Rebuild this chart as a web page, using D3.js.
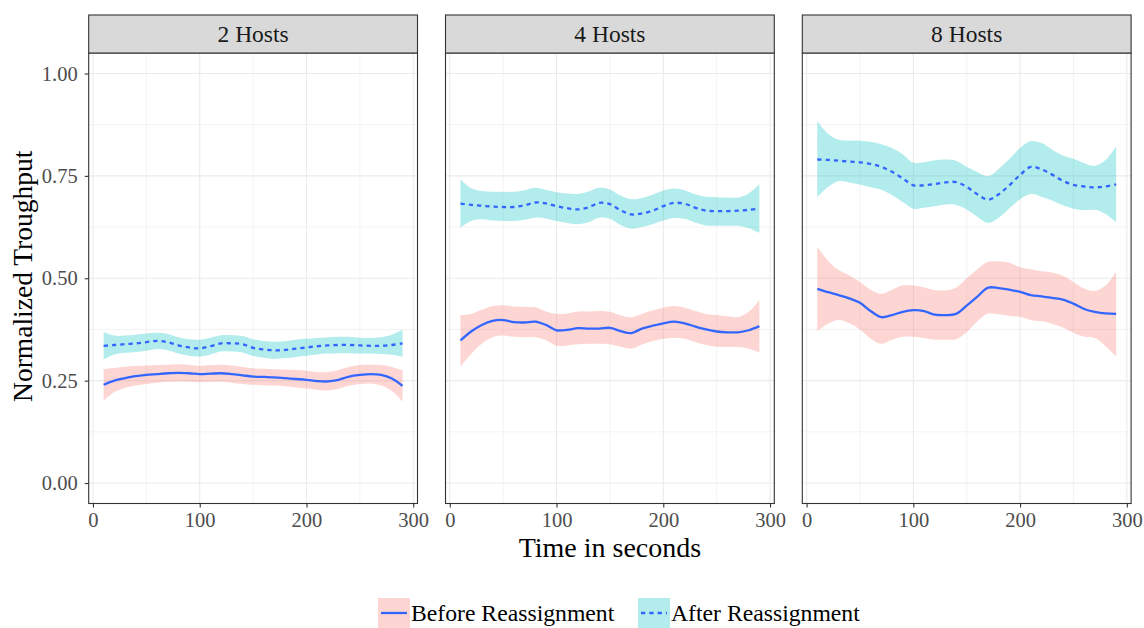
<!DOCTYPE html>
<html>
<head>
<meta charset="utf-8">
<script src="https://cdn.jsdelivr.net/npm/d3@7"></script>
<style>
  html, body { margin: 0; padding: 0; background: #fff; }
  svg { display: block; font-family: "Liberation Serif", "DejaVu Serif", serif; }
</style>
</head>
<body>
<svg id="chart" width="1144" height="628"></svg>
<script>
// ---- data -------------------------------------------------------------
const facets = ["2 Hosts", "4 Hosts", "8 Hosts"];
const groups = ["Before Reassignment", "After Reassignment"];
const xTicks = [0, 100, 200, 300];
const yTicks = [0, 0.25, 0.5, 0.75, 1];
const yTickLabels = ["0.00", "0.25", "0.50", "0.75", "1.00"];

const times = [10, 20, 30, 40, 50, 60, 70, 80, 90, 100, 110, 120, 130, 140, 150,
               160, 170, 180, 190, 200, 210, 220, 230, 240, 250, 260, 270, 280, 290];

// 2 Hosts
const before2Fit = [0.240, 0.250, 0.256, 0.261, 0.264, 0.266, 0.268, 0.269, 0.268, 0.266, 0.267, 0.268, 0.266, 0.263, 0.260,
                    0.259, 0.258, 0.256, 0.254, 0.252, 0.249, 0.248, 0.252, 0.260, 0.264, 0.266, 0.264, 0.255, 0.237];
const before2Hi  = [0.278, 0.281, 0.284, 0.286, 0.287, 0.288, 0.289, 0.290, 0.288, 0.286, 0.288, 0.289, 0.287, 0.283, 0.280,
                    0.279, 0.278, 0.277, 0.276, 0.274, 0.271, 0.271, 0.276, 0.284, 0.288, 0.289, 0.288, 0.283, 0.275];
const before2Lo  = [0.201, 0.222, 0.232, 0.238, 0.242, 0.245, 0.247, 0.248, 0.248, 0.246, 0.247, 0.248, 0.245, 0.242, 0.240,
                    0.239, 0.238, 0.236, 0.233, 0.231, 0.228, 0.226, 0.230, 0.238, 0.242, 0.243, 0.238, 0.225, 0.199];
const after2Fit  = [0.335, 0.337, 0.339, 0.341, 0.344, 0.347, 0.344, 0.336, 0.331, 0.329, 0.334, 0.341, 0.341, 0.339, 0.330,
                    0.326, 0.324, 0.325, 0.328, 0.331, 0.334, 0.336, 0.337, 0.337, 0.336, 0.335, 0.335, 0.337, 0.341];
const after2Hi   = [0.369, 0.360, 0.360, 0.362, 0.365, 0.367, 0.364, 0.356, 0.351, 0.350, 0.355, 0.361, 0.361, 0.359, 0.351,
                    0.347, 0.345, 0.346, 0.350, 0.352, 0.354, 0.356, 0.357, 0.357, 0.355, 0.354, 0.356, 0.362, 0.374];
const after2Lo   = [0.302, 0.314, 0.318, 0.320, 0.323, 0.327, 0.324, 0.316, 0.311, 0.309, 0.314, 0.321, 0.321, 0.319, 0.310,
                    0.306, 0.303, 0.305, 0.308, 0.311, 0.314, 0.316, 0.317, 0.317, 0.316, 0.316, 0.315, 0.313, 0.308];

// 4 Hosts
const before4Fit = [0.348, 0.370, 0.386, 0.396, 0.398, 0.393, 0.392, 0.394, 0.386, 0.373, 0.374, 0.378, 0.377, 0.377, 0.379,
                    0.371, 0.366, 0.377, 0.384, 0.390, 0.394, 0.390, 0.382, 0.375, 0.370, 0.368, 0.368, 0.373, 0.383];
const before4Hi  = [0.410, 0.413, 0.423, 0.432, 0.434, 0.431, 0.430, 0.429, 0.419, 0.413, 0.414, 0.419, 0.419, 0.420, 0.418,
                    0.409, 0.405, 0.413, 0.421, 0.428, 0.432, 0.428, 0.420, 0.413, 0.410, 0.407, 0.405, 0.418, 0.447];
const before4Lo  = [0.284, 0.315, 0.340, 0.356, 0.360, 0.357, 0.356, 0.356, 0.349, 0.335, 0.336, 0.339, 0.340, 0.340, 0.339,
                    0.333, 0.328, 0.338, 0.347, 0.352, 0.355, 0.352, 0.344, 0.337, 0.333, 0.332, 0.332, 0.328, 0.319];
const after4Fit  = [0.682, 0.679, 0.677, 0.675, 0.674, 0.674, 0.678, 0.685, 0.683, 0.676, 0.671, 0.668, 0.673, 0.684, 0.681,
                    0.666, 0.656, 0.658, 0.665, 0.676, 0.684, 0.682, 0.672, 0.665, 0.664, 0.664, 0.665, 0.667, 0.670];
const after4Hi   = [0.742, 0.720, 0.713, 0.711, 0.711, 0.711, 0.715, 0.721, 0.716, 0.710, 0.707, 0.706, 0.712, 0.721, 0.717,
                    0.702, 0.693, 0.696, 0.704, 0.714, 0.719, 0.715, 0.705, 0.699, 0.698, 0.697, 0.697, 0.707, 0.730];
const after4Lo   = [0.624, 0.640, 0.644, 0.641, 0.640, 0.640, 0.643, 0.648, 0.646, 0.640, 0.635, 0.632, 0.637, 0.648, 0.645,
                    0.630, 0.621, 0.625, 0.632, 0.641, 0.647, 0.645, 0.636, 0.629, 0.628, 0.628, 0.628, 0.622, 0.611];

// 8 Hosts
const before8Fit = [0.474, 0.466, 0.459, 0.451, 0.440, 0.420, 0.405, 0.410, 0.418, 0.422, 0.420, 0.411, 0.410, 0.413, 0.433,
                    0.455, 0.477, 0.476, 0.472, 0.467, 0.459, 0.456, 0.452, 0.448, 0.438, 0.425, 0.418, 0.414, 0.413];
const before8Hi  = [0.577, 0.543, 0.520, 0.507, 0.491, 0.472, 0.462, 0.472, 0.483, 0.482, 0.478, 0.471, 0.471, 0.477, 0.500,
                    0.522, 0.540, 0.541, 0.538, 0.527, 0.522, 0.517, 0.514, 0.506, 0.491, 0.475, 0.469, 0.482, 0.516];
const before8Lo  = [0.371, 0.389, 0.398, 0.390, 0.375, 0.353, 0.340, 0.350, 0.357, 0.357, 0.354, 0.350, 0.350, 0.351, 0.368,
                    0.395, 0.414, 0.412, 0.408, 0.406, 0.398, 0.395, 0.389, 0.380, 0.367, 0.357, 0.354, 0.334, 0.309];
const after8Fit  = [0.790, 0.789, 0.787, 0.785, 0.783, 0.779, 0.772, 0.760, 0.744, 0.727, 0.727, 0.730, 0.734, 0.735, 0.723,
                    0.705, 0.692, 0.705, 0.727, 0.752, 0.772, 0.766, 0.753, 0.738, 0.728, 0.724, 0.722, 0.724, 0.729];
const after8Hi   = [0.884, 0.853, 0.838, 0.836, 0.836, 0.833, 0.827, 0.818, 0.803, 0.782, 0.783, 0.788, 0.790, 0.787, 0.772,
                    0.759, 0.749, 0.767, 0.791, 0.818, 0.835, 0.830, 0.814, 0.800, 0.792, 0.781, 0.775, 0.789, 0.822];
const after8Lo   = [0.698, 0.723, 0.737, 0.734, 0.729, 0.722, 0.716, 0.703, 0.686, 0.670, 0.672, 0.676, 0.680, 0.679, 0.668,
                    0.650, 0.635, 0.648, 0.671, 0.693, 0.706, 0.699, 0.690, 0.678, 0.670, 0.666, 0.667, 0.657, 0.637];

const panelSeries = [
  [ {fit: before2Fit, lo: before2Lo, hi: before2Hi}, {fit: after2Fit, lo: after2Lo, hi: after2Hi} ],
  [ {fit: before4Fit, lo: before4Lo, hi: before4Hi}, {fit: after4Fit, lo: after4Lo, hi: after4Hi} ],
  [ {fit: before8Fit, lo: before8Lo, hi: before8Hi}, {fit: after8Fit, lo: after8Lo, hi: after8Hi} ]
];

// ---- styling ----------------------------------------------------------
const bandColors = ["#F8766D", "#00BFC4"];
const lineColor = "#3366FF";
const dashes = [null, "4.3,4"];

const svg = d3.select("#chart");

const plotLeft = 88.7, panelW = 328.8, panelGap = 28;
const stripTop = 15, stripH = 38;
const panelTop = stripTop + stripH, panelBottom = 503.5;

const x = d3.scaleLinear().domain([-4, 304]).range([0, panelW]);
const y = d3.scaleLinear().domain([-0.05, 1.05]).range([panelBottom, panelTop]);

const xMinor = [50, 150, 250];
const yMinor = [0.125, 0.375, 0.625, 0.875];

facets.forEach((name, i) => {
  const g = svg.append("g").attr("transform", `translate(${plotLeft + i * (panelW + panelGap)},0)`);

  // grid
  g.selectAll(".ymin").data(yMinor).join("line")
    .attr("x1", 0).attr("x2", panelW).attr("y1", d => y(d)).attr("y2", d => y(d))
    .attr("stroke", "#EBEBEB").attr("stroke-width", 0.6);
  g.selectAll(".xmin").data(xMinor).join("line")
    .attr("y1", panelTop).attr("y2", panelBottom).attr("x1", d => x(d)).attr("x2", d => x(d))
    .attr("stroke", "#EBEBEB").attr("stroke-width", 0.6);
  g.selectAll(".ymaj").data(yTicks).join("line")
    .attr("x1", 0).attr("x2", panelW).attr("y1", d => y(d)).attr("y2", d => y(d))
    .attr("stroke", "#EBEBEB").attr("stroke-width", 1.1);
  g.selectAll(".xmaj").data(xTicks).join("line")
    .attr("y1", panelTop).attr("y2", panelBottom).attr("x1", d => x(d)).attr("x2", d => x(d))
    .attr("stroke", "#EBEBEB").attr("stroke-width", 1.1);

  // confidence bands then fitted lines
  panelSeries[i].forEach((s, k) => {
    const pts = times.map((t, j) => ({t, fit: s.fit[j], lo: s.lo[j], hi: s.hi[j]}));
    g.append("path")
      .attr("d", d3.area().curve(d3.curveCatmullRom.alpha(0.5))
        .x(d => x(d.t)).y0(d => y(d.lo)).y1(d => y(d.hi))(pts))
      .attr("fill", bandColors[k]).attr("fill-opacity", 0.3);
  });
  panelSeries[i].forEach((s, k) => {
    const pts = times.map((t, j) => ({t, fit: s.fit[j]}));
    g.append("path")
      .attr("d", d3.line().curve(d3.curveCatmullRom.alpha(0.5))
        .x(d => x(d.t)).y(d => y(d.fit))(pts))
      .attr("fill", "none").attr("stroke", lineColor).attr("stroke-width", 2.3)
      .attr("stroke-dasharray", dashes[k]);
  });

  // panel border
  g.append("rect").attr("x", 0).attr("y", panelTop).attr("width", panelW)
    .attr("height", panelBottom - panelTop)
    .attr("fill", "none").attr("stroke", "#333333").attr("stroke-width", 1.1);

  // strip
  g.append("rect").attr("x", 0).attr("y", stripTop).attr("width", panelW).attr("height", stripH)
    .attr("fill", "#D9D9D9").attr("stroke", "#333333").attr("stroke-width", 1.1);
  g.append("text").attr("x", panelW / 2).attr("y", stripTop + stripH / 2)
    .attr("text-anchor", "middle").attr("dy", "0.35em")
    .attr("font-size", 23.5).attr("fill", "#1A1A1A").text(name);

  // x axis
  const xa = g.append("g").attr("transform", `translate(0,${panelBottom})`)
    .call(d3.axisBottom(x).tickValues(xTicks).tickSize(4).tickPadding(5).tickFormat(d3.format("d")));
  xa.select(".domain").remove();
  xa.selectAll(".tick line").attr("stroke", "#333333").attr("stroke-width", 1.1);
  xa.selectAll(".tick text").attr("font-size", 20.5).attr("fill", "#4D4D4D")
    .attr("font-family", "Liberation Serif, serif");

  if (i === 0) {
    const ya = g.append("g")
      .call(d3.axisLeft(y).tickValues(yTicks).tickSize(4).tickPadding(7)
        .tickFormat((d, j) => yTickLabels[j]));
    ya.select(".domain").remove();
    ya.selectAll(".tick line").attr("stroke", "#333333").attr("stroke-width", 1.1);
    ya.selectAll(".tick text").attr("font-size", 20.5).attr("fill", "#4D4D4D")
      .attr("font-family", "Liberation Serif, serif");
  }
});

// axis titles
const centerX = plotLeft + (3 * panelW + 2 * panelGap) / 2;
svg.append("text").attr("x", centerX).attr("y", 557).attr("text-anchor", "middle")
  .attr("font-size", 28).attr("fill", "#000").text("Time in seconds");
svg.append("text").attr("transform", `translate(32,${(panelTop + panelBottom) / 2 - 2}) rotate(-90)`)
  .attr("text-anchor", "middle").attr("font-size", 27.5).attr("fill", "#000")
  .text("Normalized Troughput");

// legend
const keyX = [378, 638];
const keyY = 598, keySize = 32;
groups.forEach((label, k) => {
  const lg = svg.append("g").attr("transform", `translate(${keyX[k]},${keyY})`);
  lg.append("rect").attr("width", keySize).attr("height", keySize)
    .attr("fill", bandColors[k]).attr("fill-opacity", 0.3);
  lg.append("line").attr("x1", 3).attr("x2", keySize - 3).attr("y1", 15).attr("y2", 15)
    .attr("stroke", lineColor).attr("stroke-width", 2.3).attr("stroke-dasharray", dashes[k]);
  lg.append("text").attr("x", keySize + 1).attr("y", 22.5).attr("font-size", 23.7)
    .attr("fill", "#000").text(label);
});
</script>
</body>
</html>
